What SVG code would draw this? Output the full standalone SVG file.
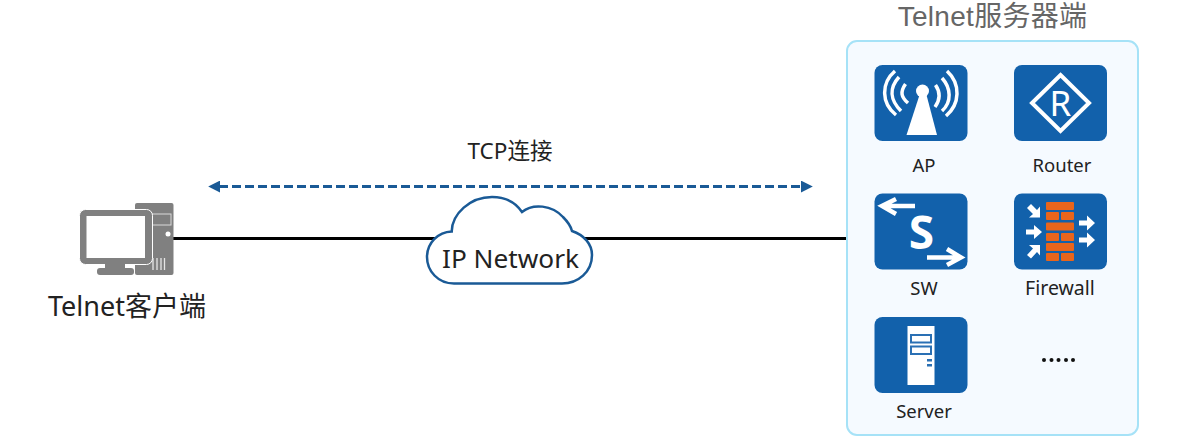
<svg xmlns="http://www.w3.org/2000/svg" width="1188" height="443" viewBox="0 0 1188 443">
<style>
text{font-family:"Noto Sans","Noto Sans CJK SC",sans-serif;text-anchor:middle;fill:#222}
.title{font-family:"Liberation Sans","Noto Sans CJK SC",sans-serif;fill:#666;letter-spacing:.3px}
.l{font-size:18.5px}
.fw{font-size:19.5px}
.t{fill:#1261ab}
.w{fill:#fff}
.ws{fill:none;stroke:#fff;stroke-linecap:butt}
.b{fill:#e8651c}
.g{fill:#808080}
.d{fill:none;stroke:#2a70b4;stroke-width:2}
</style>
<defs>
<marker id="ah" viewBox="0 0 10 10" refX="1" refY="5" markerWidth="12" markerHeight="12" markerUnits="userSpaceOnUse" orient="auto-start-reverse"><path d="M0 0L10 5L0 10z" fill="#1a5a96"/></marker>
<rect id="tile" width="93" height="76" rx="8" class="t"/>
</defs>
<rect width="1188" height="443" fill="#fff"/>
<g id="connectors">
<line x1="219" y1="186.500" x2="802" y2="186.500" stroke="#1a5a96" stroke-width="3" stroke-dasharray="9 4" marker-start="url(#ah)" marker-end="url(#ah)"/>
<line x1="173" y1="238.500" x2="847" y2="238.500" stroke="#000" stroke-width="3"/>
</g>
<text x="510" y="159" font-size="22.500">TCP连接</text>
<g id="client">
<rect x="135" y="203" width="38.500" height="72" rx="2" class="g"/>
<rect x="152" y="214" width="19" height="11" fill="none" stroke="#fff" stroke-width="1" opacity=".7"/>
<circle cx="168" cy="234" r="2.500" class="w"/>
<path d="M153 258v12M157 258v12M161 258v12M164.500 258v12" stroke="#fff" stroke-width="1.300" opacity=".8"/>
<rect x="79.500" y="209.500" width="73" height="55" rx="6" class="g" stroke="#fff" stroke-width="1"/>
<rect x="86.500" y="216" width="58.500" height="42" class="w"/>
<rect x="105" y="264" width="20" height="5" class="g"/>
<rect x="97" y="268" width="37" height="7" rx="3" class="g"/>
<text x="127" y="316" font-size="27">Telnet客户端</text>
</g>
<g id="cloud">
<path d="M451.700 231.500C452 214 470 197 492 197C506 197 516 203 522 212C533 203 552 205 563 217C568 222 571 227 572 231C584 235 592 244 592 255C592 272 578 283.500 562 283.500H454C438 283.500 427 271 427 257C427 243 438 232 451.700 231.500Z" fill="#fff" stroke="#1a5a96" stroke-width="2.500"/>
<text x="510.500" y="268" font-size="26.200">IP Network</text>
</g>
<g id="server-panel">
<rect x="847" y="41" width="291" height="394" rx="10" fill="#f5faff" stroke="#a6e2f7" stroke-width="2"/>
<text class="title" x="992.500" y="25.500" font-size="28">Telnet服务器端</text>
</g>
<g id="ap">
<use href="#tile" x="874.500" y="65"/>
<path d="M919.500 95L906.500 135H937L926.500 95Z" class="w"/>
<circle cx="922.500" cy="91" r="6.500" class="w"/>
<g class="ws" stroke-width="3.500">
<path d="M905.500 84C900 92 901 97 908 103"/>
<path d="M899 77C889 88 890 100 901 111"/>
<path d="M895 71C881 83 881 103 896 115"/>
<path d="M935.500 85C941 93 940 100 935 107"/>
<path d="M942 78C951 88 952 102 942 111"/>
<path d="M947 71C961 84 960 104 946 116"/>
</g>
<text class="l" x="924" y="172">AP</text>
</g>
<g id="router">
<use href="#tile" x="1014" y="65"/>
<path d="M1060.500 75L1089 103L1060.500 131L1032 103Z" fill="none" stroke="#fff" stroke-width="4"/>
<text x="1060.500" y="116" font-size="35" style="fill:#fff">R</text>
<text class="l" x="1062" y="172">Router</text>
</g>
<g id="sw">
<use href="#tile" x="874.500" y="193.500"/>
<path d="M915 206H886M896 199L882 206L896 214" class="ws" stroke-width="4.500"/>
<path d="M927 257.500H957M947 249L961 257.500L947 265" class="ws" stroke-width="4.500"/>
<text x="921.500" y="248.500" font-size="46" font-weight="700" style="fill:#fff">S</text>
<text class="l" x="924" y="295">SW</text>
</g>
<g id="firewall">
<use href="#tile" x="1014" y="193.500"/>
<g class="b">
<rect x="1046" y="202" width="28" height="8" rx="1"/>
<rect x="1046" y="212" width="13" height="8" rx="1"/><rect x="1061" y="212" width="13" height="8" rx="1"/>
<rect x="1046" y="222.500" width="28" height="8" rx="1"/>
<rect x="1046" y="233" width="13" height="8" rx="1"/><rect x="1061" y="233" width="13" height="8" rx="1"/>
<rect x="1046" y="243" width="28" height="8" rx="1"/>
<rect x="1046" y="253" width="13" height="8" rx="1"/><rect x="1061" y="253" width="13" height="8" rx="1"/>
</g>
<g fill="#fff">
<path d="M1026 229.500H1034V225L1042 232L1034 239V234.500H1026Z"/>
<path d="M1079 220.500H1087V215.500L1095 223L1087 230.500V225.500H1079Z"/>
<path d="M1079 237.500H1087V232.500L1095 240L1087 247.500V242.500H1079Z"/>
<path d="M1027 208L1031 204L1037 210L1040 206.500V217.500H1029L1033 214Z"/>
<path d="M1027 255L1031 258.500L1037 252L1040 255.500V245H1029L1033 248.500Z"/>
</g>
<text class="fw" x="1060" y="295">Firewall</text>
</g>
<g id="server">
<use href="#tile" x="874.500" y="317"/>
<rect x="907.500" y="326" width="27" height="59" class="w"/>
<rect x="911" y="335" width="20" height="7.500" class="d"/>
<rect x="911" y="346.500" width="20" height="7.500" class="d"/>
<rect x="927" y="359" width="5" height="2.500" fill="#2a70b4"/>
<rect x="927" y="364" width="5" height="2.500" fill="#2a70b4"/>
<text class="l" x="924" y="418">Server</text>
</g>
<g id="more" fill="#111">
<circle cx="1044" cy="360" r="2"/><circle cx="1051.500" cy="360" r="2"/><circle cx="1058.500" cy="360" r="2"/><circle cx="1066" cy="360" r="2"/><circle cx="1073" cy="360" r="2"/>
</g>
</svg>
